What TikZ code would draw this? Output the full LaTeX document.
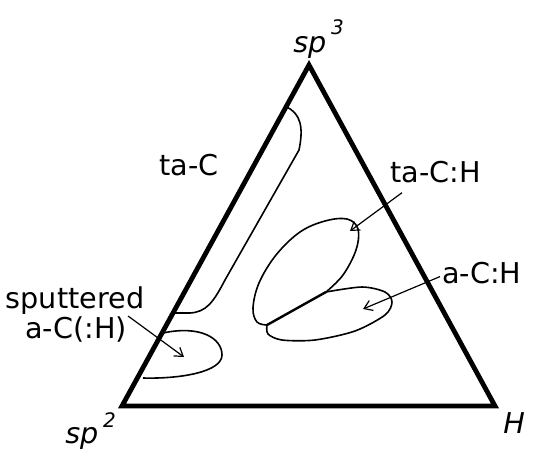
\documentclass[tikz,border=0pt]{standalone}
\usepackage{fontspec}
\setmainfont{DejaVu Sans}
\usepackage{tikz}
\usetikzlibrary{arrows.meta, positioning, calc}

\begin{document}
\begin{tikzpicture}[
  x=0.75pt, y=-0.75pt,
  lbl/.style={inner sep=0pt, font=\fontsize{21.5}{26}\selectfont},
  vlbl/.style={inner sep=0pt, font=\fontsize{21.5}{26}\selectfont\itshape},
  edge/.style={line width=3.6pt, line join=miter},
  rgn/.style={line width=1.2pt, line join=round},
  arr/.style={line width=0.9pt, -{Straight Barb[length=6pt, width=8pt]}}
]
  \useasboundingbox (0,0) rectangle (538,458);

  \coordinate (v2) at (122,406);
  \coordinate (v3) at (309,65);
  \coordinate (vH) at (495,406);
  \draw[edge] (v2) -- (v3) -- (vH) -- cycle;

  \node[vlbl, anchor=base west] (sp3) at (293,52) {sp\,\raisebox{0.6em}{\fontsize{15}{15}\selectfont 3}};
  \node[vlbl, anchor=base west] (sp2) at (65,443) {sp\,\raisebox{0.55em}{\fontsize{15}{15}\selectfont 2}};
  \node[vlbl, anchor=base west] (hyd) at (503,433) {H};

  \node[lbl, anchor=base west] (taC) at (159,175) {ta-C};
  \node[lbl, anchor=base west] (tacH) at (390,182) {ta-C:H};
  \node[lbl, anchor=base west] (aCH) at (442,283) {a-C:H};
  \node[lbl, anchor=base] (sputA) at (75,308) {sputtered};
  \node[lbl, anchor=base] (sputB) at (76,338) {a-C(:H)};

  \draw[rgn] (287,107) .. controls (300,114) and (304,126) .. (299,150)
    -- (225,280) .. controls (213,303) and (206,312) .. (190,313) -- (174,313);

  \draw[rgn] (163,333) .. controls (200,325) and (222,338) .. (222,355)
    .. controls (222,372) and (180,379) .. (143,378);

  \coordinate (jA) at (267,325);
  \coordinate (jB) at (326,292);
  \draw[rgn] plot[smooth, tension=0.6] coordinates {(267,325) (257,322) (253,308) (259,283) (276,255) (300,232) (325,221) (347,219) (358,229) (356,250) (343,275) (326,292)};
  \draw[rgn] plot[smooth] coordinates {(326,292) (362,287) (385,292) (392,302) (385,315) (355,331) (315,340) (282,340) (268,334) (267,325)};
  \draw[line width=1.8pt] (jA) -- (jB);

  \coordinate (tacHtip) at (350,231);
  \coordinate (aCHtip) at (363,309);
  \coordinate (sputtip) at (184,357);
  \draw[arr] ([shift={(12,10)}]tacH.south west) -- (tacHtip);
  \draw[arr] ([shift={(-2,4)}]aCH.west) -- (aCHtip);
  \draw[arr] ([shift={(1,0)}]sputB.north east) -- (sputtip);
\end{tikzpicture}
\end{document}
